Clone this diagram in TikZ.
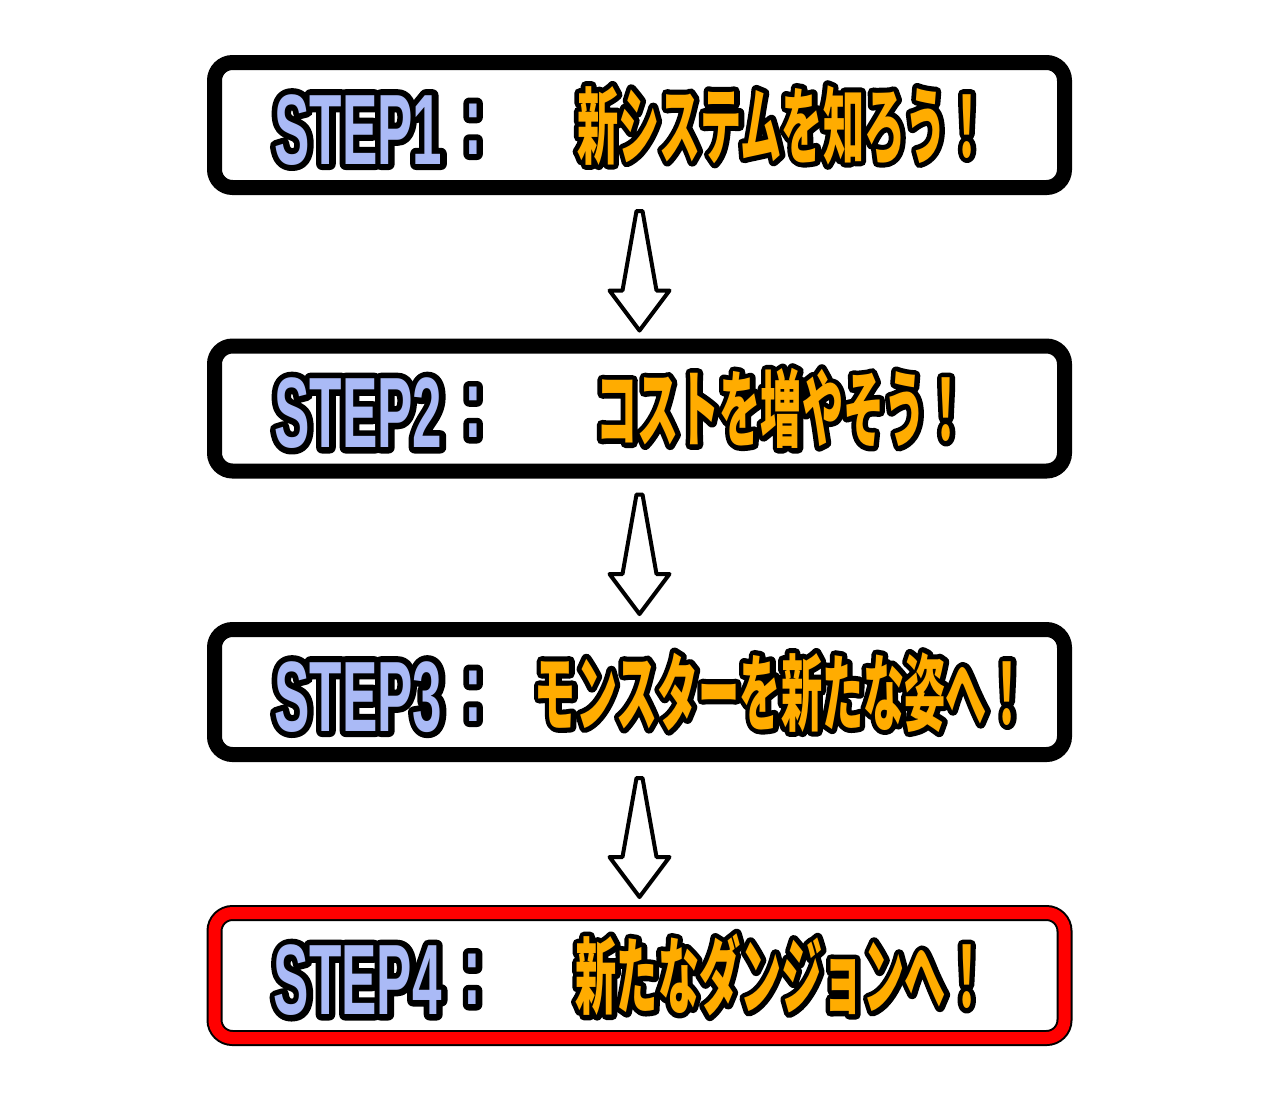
\documentclass[tikz,border=0pt]{standalone}
\usepackage{fontspec}
\setmainfont{Liberation Sans}
\newfontfamily\stepfont{Liberation Sans}[FakeStretch=0.53]
\newfontfamily\stepfontline{Liberation Sans}[FakeStretch=0.53,FakeBold=12]
\newfontfamily\cjkfont{Noto Sans CJK JP}[FakeStretch=0.49]
\newfontfamily\cjkfontline{Noto Sans CJK JP}[FakeStretch=0.49,FakeBold=12]
\usetikzlibrary{positioning,calc}
\definecolor{stepblue}{RGB}{170,186,246}
\definecolor{titleorange}{RGB}{255,172,0}
% hollow arrow from one box to the next
\newcommand{\steparrow}[2]{%
  \draw[flow arrow] ($(#1.south)+(-3,16)$) -- ($(#1.south)+(3,16)$)
    -- ($(#2.north)+(17,-48)$) -- ($(#2.north)+(30,-48)$) -- ($(#2.north)+(0,-8)$)
    -- ($(#2.north)+(-30,-48)$) -- ($(#2.north)+(-17,-48)$) -- cycle;}
\newcommand{\steplabel}[1]{STEP#1\kern11pt\raisebox{5pt}{:}}
% round joins for the outline strokes
\newcommand{\roundline}{\special{pdf:literal direct 1 j 1 J}}

\begin{document}
\begin{tikzpicture} [x=0.5pt,y=-0.5pt,
			stage box/.style={draw=black,line width=7.5pt,rounded corners=9pt,fill=white,
				minimum width=425pt,minimum height=62.5pt,inner sep=0pt},
			goal box/.style={stage box,line width=1pt,double=red,double distance=6pt,outer sep=4pt},
			label text/.style={anchor=base west,inner sep=0pt,text=stepblue,
				font=\stepfont\bfseries\fontsize{50pt}{52pt}\selectfont},
			label line/.style={label text,text=black,line join=round,
				font=\stepfontline\bfseries\fontsize{50pt}{52pt}\selectfont\roundline},
			title text/.style={anchor=base,inner sep=0pt,text=titleorange,
				font=\cjkfont\bfseries\fontsize{42pt}{44pt}\selectfont},
			title line/.style={title text,text=black,line join=round,
				font=\cjkfontline\bfseries\fontsize{42pt}{44pt}\selectfont\roundline},
			flow arrow/.style={draw=black,fill=white,line width=2pt,line join=round},
			node distance=141.75pt]
			\useasboundingbox (0,0) rectangle (1280,1100);
			\node[stage box] (step_1) at (639.5,125) {};
			\node[stage box] (step_2) [below of=step_1] {};
			\node[stage box] (step_3) [below of=step_2] {};
			\node[goal box] (step_4) [below of=step_3] {};

			\node[label line] (o_1) at ($(step_1.west)+(67,39)$) {\steplabel{1}};
			\node[label text] (l_1) at (o_1.base west) {\steplabel{1}};
			\node[label line] (o_2) at ($(step_2.west)+(67,39)$) {\steplabel{2}};
			\node[label text] (l_2) at (o_2.base west) {\steplabel{2}};
			\node[label line] (o_3) at ($(step_3.west)+(67,39)$) {\steplabel{3}};
			\node[label text] (l_3) at (o_3.base west) {\steplabel{3}};
			\node[label line] (o_4) at ($(step_4.west)+(67,39)$) {\steplabel{4}};
			\node[label text] (l_4) at (o_4.base west) {\steplabel{4}};

			\node[title line] (u_1) at ($(step_1.center)+(143,32)$) {新システムを知ろう！};
			\node[title text] (t_1) at (u_1.base) {新システムを知ろう！};
			\node[title line] (u_2) at ($(step_2.center)+(142,32)$) {コストを増やそう！};
			\node[title text] (t_2) at (u_2.base) {コストを増やそう！};
			\node[title line] (u_3) at ($(step_3.center)+(142,32)$) {モンスターを新たな姿へ！};
			\node[title text] (t_3) at (u_3.base) {モンスターを新たな姿へ！};
			\node[title line] (u_4) at ($(step_4.center)+(142,32)$) {新たなダンジョンへ！};
			\node[title text] (t_4) at (u_4.base) {新たなダンジョンへ！};

			\steparrow{step_1}{step_2}
			\steparrow{step_2}{step_3}
			\steparrow{step_3}{step_4}
		\end{tikzpicture}
\end{document}
